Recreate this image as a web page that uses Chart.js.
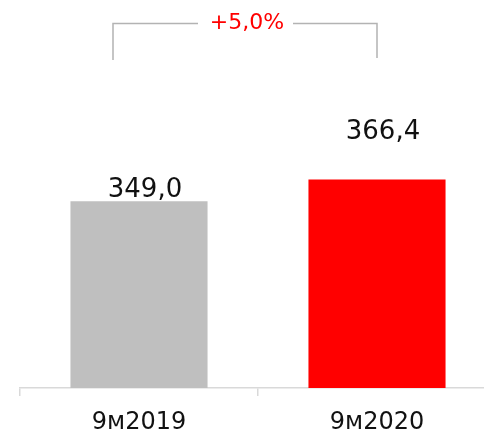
<!DOCTYPE html>
<html>
<head>
<meta charset="utf-8">
<script src="https://cdn.jsdelivr.net/npm/chart.js@4"></script>
<style>
  html, body { margin: 0; padding: 0; background: #fff; overflow: hidden; }
  #wrap { width: 496px; height: 450px; }
</style>
</head>
<body>
<div id="wrap"><canvas id="revChart"></canvas></div>
<script>
const categories = ['9м2019', '9м2020'];
const revenue = [349.0, 366.4];
const barColors = ['#bfbfbf', '#ff0000'];
const changeLabel = '+5,0%';

const fmt = v => v.toFixed(1).replace('.', ',');

// value labels above bars + growth bracket
const labelsPlugin = {
    id: 'labels',
    afterDatasetsDraw(chart) {
        const ctx = chart.ctx;
        const bars = chart.getDatasetMeta(0).data;
        const lift = [4, 40];
        ctx.save();
        ctx.fillStyle = '#111';
        ctx.font = '26px "DejaVu Sans"';
        ctx.textAlign = 'center';
        ctx.textBaseline = 'alphabetic';
        bars.forEach((bar, i) => {
            ctx.fillText(fmt(revenue[i]), bar.x + 6, bar.y - lift[i]);
        });

        // bracket
        const left = bars[0].x - 26;
        const right = bars[1].x;
        const top = 23.5;
        const mid = (left + right) / 2 + 2;
        ctx.strokeStyle = '#b3b3b3';
        ctx.lineWidth = 1.5;
        ctx.beginPath();
        ctx.moveTo(left, 60);
        ctx.lineTo(left, top);
        ctx.lineTo(mid - 49, top);
        ctx.moveTo(mid + 46, top);
        ctx.lineTo(right, top);
        ctx.lineTo(right, 58);
        ctx.stroke();

        ctx.fillStyle = '#ff0000';
        ctx.font = '22px "DejaVu Sans"';
        ctx.fillText(changeLabel, mid, 28.5);
        ctx.restore();
    }
};

new Chart(document.getElementById('revChart'), {
    type: 'bar',
    data: {
        labels: categories,
        datasets: [{
            data: revenue,
            backgroundColor: barColors,
            barPercentage: 0.576,
            categoryPercentage: 1.0
        }]
    },
    options: {
        responsive: true,
        maintainAspectRatio: false,
        animation: false,
        layout: { padding: { left: 20, top: 12, right: 0, bottom: 0 } },
        plugins: {
            legend: { display: false },
            tooltip: { enabled: false }
        },
        scales: {
            x: {
                border: { display: true, color: '#d9d9d9', width: 1.5 },
                grid: {
                    display: true,
                    offset: true,
                    drawOnChartArea: false,
                    drawTicks: true,
                    tickLength: 8,
                    color: '#d9d9d9',
                    lineWidth: 1.5
                },
                ticks: {
                    color: '#111',
                    padding: 15,
                    font: { family: 'DejaVu Sans', size: 24, lineHeight: 1 }
                }
            },
            y: {
                display: false,
                min: 200,
                max: 500
            }
        }
    },
    plugins: [labelsPlugin]
});
</script>
</body>
</html>
